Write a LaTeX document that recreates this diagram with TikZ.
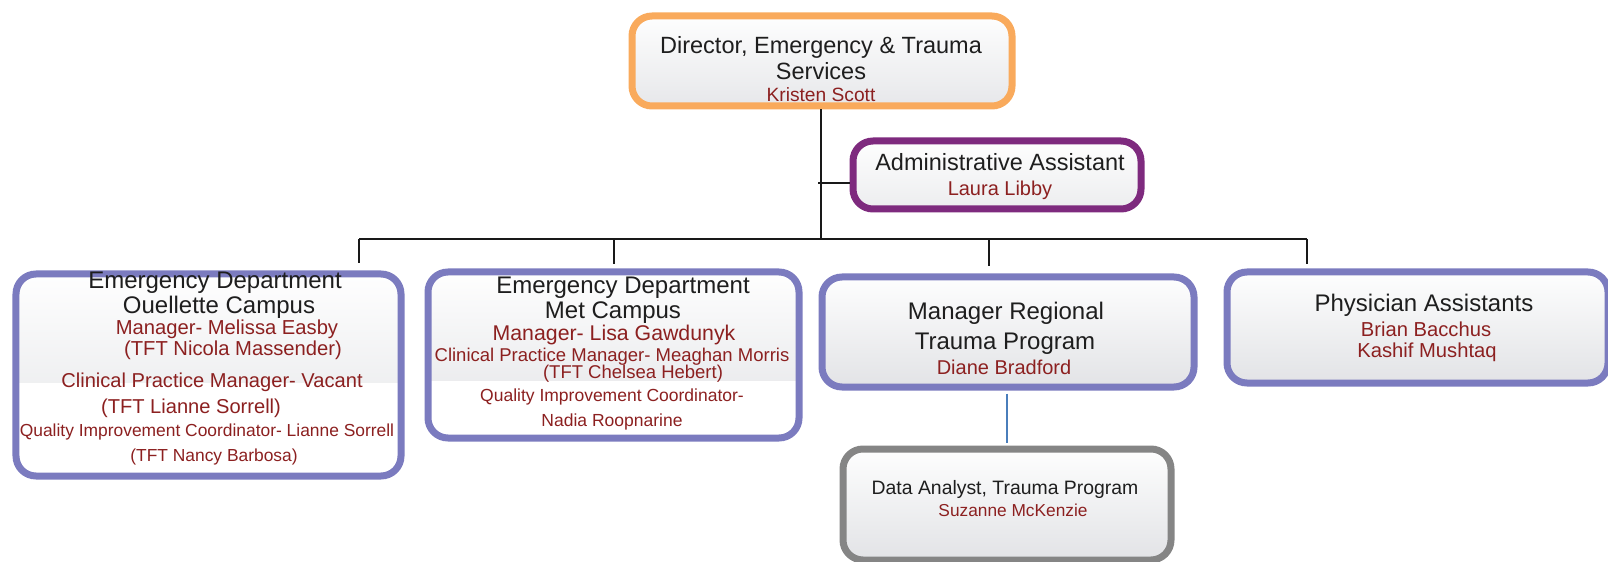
\documentclass[tikz,border=0pt]{standalone}
\usepackage{fontspec}
\setmainfont{Liberation Sans}
\usetikzlibrary{calc}
\definecolor{orangeB}{RGB}{249,170,92}
\definecolor{purpleB}{RGB}{126,42,126}
\definecolor{violetB}{RGB}{123,123,191}
\definecolor{grayB}{RGB}{133,133,133}
\definecolor{fillgray}{RGB}{226,227,230}
\definecolor{nameRed}{RGB}{140,32,32}
\definecolor{textblack}{RGB}{30,30,30}
\definecolor{lineblack}{RGB}{25,25,25}
\definecolor{blueline}{RGB}{74,126,187}
\tikzset{
  box/.style={draw=#1, line width=7bp, rounded corners=20bp, fill=white, inner sep=0pt,
    path picture={\shade[sharp corners, top color=white, bottom color=fillgray]
      ($(path picture bounding box.north west)+(-5,-5)$) rectangle ($(path picture bounding box.north east)+(5,108)$);}},
  ttl/.style={inner sep=0pt, text=textblack, font=\fontsize{#1bp}{#1bp}\selectfont},
  nm/.style={inner sep=0pt, text=nameRed, font=\fontsize{#1bp}{#1bp}\selectfont},
  conn/.style={line width=2bp, draw=lineblack},
}
\begin{document}
\begin{tikzpicture}[x=1bp,y=-1bp]
\useasboundingbox (0,0) rectangle (1608,562);
% connector coordinates
\coordinate (bar) at (821,239);
\coordinate (barL) at (359,239);
\coordinate (barR) at (1307,239);
\coordinate (tick) at (818,183);
% top boxes
\node[box=orangeB, minimum width=380bp, minimum height=90bp] (dir) at (822,61) {};
\node[box=purpleB, minimum width=288bp, minimum height=68bp] (adm) at (997,175) {};
\draw[conn] (dir.south -| bar) -- (bar);
\draw[conn] (tick) -- (adm.west |- tick);
\draw[conn] (barL) -- (barR);
% lower boxes
\node[box=violetB, minimum width=385bp, minimum height=202bp] (b1) at (208.5,375) {};
\node[box=violetB, minimum width=371bp, minimum height=166bp] (b2) at (613.5,355) {};
\node[box=violetB, minimum width=372bp, minimum height=110bp] (b3) at (1008,332) {};
\node[box=violetB, minimum width=381bp, minimum height=111bp] (b4) at (1417.5,327.5) {};
\node[box=grayB, minimum width=328bp, minimum height=111bp] (b5) at (1007,504.5) {};
\draw[conn] (barL) -- ($(b1.north -| barL)+(0,-7)$);
\draw[conn] (614,239) -- ($(b2.north -| 614,0)+(0,-4)$);
\draw[conn] (989,239) -- ($(b3.north -| 989,0)+(0,-7)$);
\draw[conn] (barR) -- ($(b4.north -| barR)+(0,-4)$);
\draw[line width=1.2bp, draw=blueline] ($(b3.south -| b5.north)+(0,3)$) -- ($(b5.north)+(0,-3)$);
% director
\node[ttl=23.5] (d1) at (821,47) {Director, Emergency \& Trauma};
\node[ttl=23.5] (d2) at (821,71) {Services};
\node[nm=19.2] (d3) at (821,95) {Kristen Scott};
% admin
\node[ttl=23.5] (a1) at (1000,162) {Administrative Assistant};
\node[nm=20] (a2) at (1000,190) {Laura Libby};
% box 1
\node[ttl=24] (p1) at (215,283) {Emergency Department};
\node[ttl=24] (p2) at (219,307) {Ouellette Campus};
\node[nm=20.2] (p3) at (227,329) {Manager- Melissa Easby};
\node[nm=20.2] (p4) at (233,350) {(TFT Nicola Massender)};
\node[nm=20.1] (p5) at (212,382) {Clinical Practice Manager- Vacant};
\node[nm=20.1] (p6) at (191,408) {(TFT Lianne Sorrell)};
\node[nm=17.4] (p7) at (207,432) {Quality Improvement Coordinator- Lianne Sorrell};
\node[nm=17.4] (p8) at (214,457) {(TFT Nancy Barbosa)};
% box 2
\node[ttl=24] (q1) at (623,288) {Emergency Department};
\node[ttl=24] (q2) at (613,313) {Met Campus};
\node[nm=21.3] (q3) at (614,335) {Manager- Lisa Gawdunyk};
\node[nm=18.5] (q4) at (612,357) {Clinical Practice Manager- Meaghan Morris};
\node[nm=18.5] (q5) at (633,374) {(TFT Chelsea Hebert)};
\node[nm=17.5] (q6) at (612,397) {Quality Improvement Coordinator-};
\node[nm=17.5] (q7) at (612,422) {Nadia Roopnarine};
% box 3
\node[ttl=24] (r1) at (1006,313) {Manager Regional};
\node[ttl=24] (r2) at (1005,344) {Trauma Program};
\node[nm=20] (r3) at (1004,367) {Diane Bradford};
% box 4
\node[ttl=24] (s1) at (1424,305) {Physician Assistants};
\node[nm=20.2] (s2) at (1426,329) {Brian Bacchus};
\node[nm=20.2] (s3) at (1427,352) {Kashif Mushtaq};
% box 5
\node[ttl=19.4] (t1) at (1005,489) {Data Analyst, Trauma Program};
\node[nm=17.3] (t2) at (1013,510) {Suzanne McKenzie};
\end{tikzpicture}
\end{document}
